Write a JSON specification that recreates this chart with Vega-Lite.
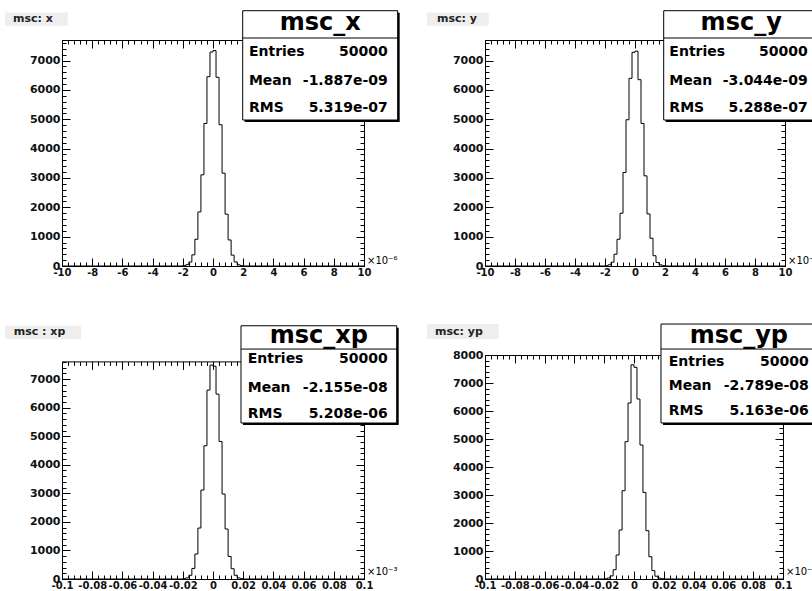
{
  "$schema": "https://vega.github.io/schema/vega-lite/v6.json",
  "background": "white",
  "autosize": {"type": "pad"},
  "padding": {"left": 4, "top": 10, "right": 0, "bottom": 0},
  "config": {
    "view": {"stroke": null},
    "axis": {"grid": false, "domainColor": "#000", "tickColor": "#000", "domainWidth": 1, "tickWidth": 1, "labelColor": "#111", "labelFont": "DejaVu Sans", "labelFontWeight": "bold", "labelFontSize": 10, "labelFlush": false, "labelOverlap": false, "zindex": 0},
    "text": {"font": "DejaVu Sans", "fontWeight": "bold", "fontSize": 14, "baseline": "middle", "color": "#000"}
  },
  "datasets": {
    "h1": [{"x":-10,"n":0},{"x":-2,"n":12},{"x":-1.8,"n":45},{"x":-1.6,"n":135},{"x":-1.4,"n":380},{"x":-1.2,"n":911},{"x":-1,"n":1843},{"x":-0.8,"n":3106},{"x":-0.6,"n":4857},{"x":-0.4,"n":6450},{"x":-0.2,"n":7290},{"x":0,"n":7340},{"x":0.2,"n":6430},{"x":0.4,"n":4812},{"x":0.6,"n":3164},{"x":0.8,"n":1765},{"x":1,"n":887},{"x":1.2,"n":370},{"x":1.4,"n":140},{"x":1.6,"n":42},{"x":1.8,"n":12},{"x":2,"n":0},{"x":10,"n":0}],
    "h2": [{"x":-10,"n":0},{"x":-2,"n":10},{"x":-1.8,"n":40},{"x":-1.6,"n":130},{"x":-1.4,"n":400},{"x":-1.2,"n":911},{"x":-1,"n":1798},{"x":-0.8,"n":3185},{"x":-0.6,"n":4983},{"x":-0.4,"n":6394},{"x":-0.2,"n":7280},{"x":0,"n":7320},{"x":0.2,"n":6348},{"x":0.4,"n":4857},{"x":0.6,"n":3072},{"x":0.8,"n":1775},{"x":1,"n":945},{"x":1.2,"n":350},{"x":1.4,"n":120},{"x":1.6,"n":40},{"x":1.8,"n":10},{"x":2,"n":0},{"x":10,"n":0}],
    "h3": [{"x":-0.1,"n":0},{"x":-0.02,"n":10},{"x":-0.018,"n":40},{"x":-0.016,"n":130},{"x":-0.014,"n":370},{"x":-0.012,"n":875},{"x":-0.01,"n":1785},{"x":-0.008,"n":3115},{"x":-0.006,"n":4666},{"x":-0.004,"n":6615},{"x":-0.002,"n":7490},{"x":0,"n":7450},{"x":0.002,"n":6475},{"x":0.004,"n":4816},{"x":0.006,"n":2975},{"x":0.008,"n":1750},{"x":0.01,"n":791},{"x":0.012,"n":360},{"x":0.014,"n":130},{"x":0.016,"n":40},{"x":0.018,"n":10},{"x":0.02,"n":0},{"x":0.1,"n":0}],
    "h4": [{"x":-0.1,"n":0},{"x":-0.02,"n":10},{"x":-0.018,"n":35},{"x":-0.016,"n":110},{"x":-0.014,"n":332},{"x":-0.012,"n":857},{"x":-0.01,"n":1750},{"x":-0.008,"n":3154},{"x":-0.006,"n":4904},{"x":-0.004,"n":6286},{"x":-0.002,"n":7650},{"x":0,"n":7560},{"x":0.002,"n":6428},{"x":0.004,"n":4786},{"x":0.006,"n":3093},{"x":0.008,"n":1725},{"x":0.01,"n":796},{"x":0.012,"n":300},{"x":0.014,"n":100},{"x":0.016,"n":30},{"x":0.018,"n":10},{"x":0.02,"n":0},{"x":0.1,"n":0}],
    "s1": [{"name":"msc_x","title":"msc: x","entries":"50000","mean":"-1.887e-09","rms":"5.319e-07","unit":"×10⁻⁶"}],
    "s2": [{"name":"msc_y","title":"msc: y","entries":"50000","mean":"-3.044e-09","rms":"5.288e-07","unit":"×10⁻⁶"}],
    "s3": [{"name":"msc_xp","title":"msc : xp","entries":"50000","mean":"-2.155e-08","rms":"5.208e-06","unit":"×10⁻³"}],
    "s4": [{"name":"msc_yp","title":"msc: yp","entries":"50000","mean":"-2.789e-08","rms":"5.163e-06","unit":"×10⁻³"}]
  },
  "columns": 2,
  "bounds": "flush",
  "align": "all",
  "spacing": {"row": 89, "column": 121},
  "concat": [
    {
      "width": 302, "height": 226,
      "data": {"name": "s1"},
      "resolve": {"scale": {"x": "shared", "y": "shared"}, "axis": {"x": "independent", "y": "independent"}},
      "layer": [
        {"data": {"name": "h1"}, "mark": {"type": "line", "interpolate": "step-after", "stroke": "#000", "strokeWidth": 1},
         "encoding": {
           "x": {"field": "x", "type": "quantitative", "scale": {"domain": [-10, 10], "nice": false, "zero": false},
                 "axis": {"orient": "bottom", "title": null, "values": [-10,-8,-6,-4,-2,0,2,4,6,8,10], "tickSize": -8, "labelPadding": 9, "labelExpr": "toString(datum.value)"}},
           "y": {"field": "n", "type": "quantitative", "scale": {"domain": [0, 7700], "nice": false},
                 "axis": {"orient": "left", "title": null, "values": [0,1000,2000,3000,4000,5000,6000,7000], "tickSize": -8, "labelPadding": 10, "labelFontSize": 11, "labelExpr": "toString(datum.value)"}}
         }},
        {"mark": {"type": "rect", "fill": "#000", "xOffset": 2, "x2Offset": 2, "yOffset": 2, "y2Offset": 2},
         "encoding": {
           "x": {"datum": 1.967, "type": "quantitative", "axis": {"orient": "bottom", "title": null, "labels": false, "domain": false, "tickSize": -4, "values": [-10,-9.6,-9.2,-8.8,-8.4,-8,-7.6,-7.2,-6.8,-6.4,-6,-5.6,-5.2,-4.8,-4.4,-4,-3.6,-3.2,-2.8,-2.4,-2,-1.6,-1.2,-0.8,-0.4,0,0.4,0.8,1.2,1.6,2,2.4,2.8,3.2,3.6,4,4.4,4.8,5.2,5.6,6,6.4,6.8,7.2,7.6,8,8.4,8.8,9.2,9.6,10]}},
           "x2": {"datum": 12.23},
           "y": {"datum": 8698, "type": "quantitative", "axis": {"orient": "left", "title": null, "labels": false, "domain": false, "tickSize": -4, "values": [0,200,400,600,800,1000,1200,1400,1600,1800,2000,2200,2400,2600,2800,3000,3200,3400,3600,3800,4000,4200,4400,4600,4800,5000,5200,5400,5600,5800,6000,6200,6400,6600,6800,7000,7200,7400,7600]}},
           "y2": {"datum": 4974}
         }},
        {"mark": {"type": "rect", "fill": "#fff", "stroke": "#000", "strokeWidth": 1},
         "encoding": {
           "x": {"datum": 1.967, "type": "quantitative", "axis": {"orient": "top", "title": null, "labels": false, "tickSize": -8, "values": [-10,-8,-6,-4,-2,0,2,4,6,8,10]}},
           "x2": {"datum": 12.23},
           "y": {"datum": 8698, "type": "quantitative", "axis": {"orient": "right", "title": null, "labels": false, "tickSize": -8, "values": [0,1000,2000,3000,4000,5000,6000,7000]}},
           "y2": {"datum": 4974}
         }},
        {"mark": {"type": "rect", "fill": "#eeeeee"},
         "encoding": {
           "x": {"datum": -13.775, "type": "quantitative", "axis": {"orient": "top", "title": null, "labels": false, "domain": false, "tickSize": -4, "values": [-10,-9.6,-9.2,-8.8,-8.4,-8,-7.6,-7.2,-6.8,-6.4,-6,-5.6,-5.2,-4.8,-4.4,-4,-3.6,-3.2,-2.8,-2.4,-2,-1.6,-1.2,-0.8,-0.4,0,0.4,0.8,1.2,1.6,2,2.4,2.8,3.2,3.6,4,4.4,4.8,5.2,5.6,6,6.4,6.8,7.2,7.6,8,8.4,8.8,9.2,9.6,10]}},
           "x2": {"datum": -9.62},
           "y": {"datum": 8640, "type": "quantitative", "axis": {"orient": "right", "title": null, "labels": false, "domain": false, "tickSize": -4, "values": [0,200,400,600,800,1000,1200,1400,1600,1800,2000,2200,2400,2600,2800,3000,3200,3400,3600,3800,4000,4200,4400,4600,4800,5000,5200,5400,5600,5800,6000,6200,6400,6600,6800,7000,7200,7400,7600]}},
           "y2": {"datum": 8187}
         }},
        {"mark": {"type": "rule", "stroke": "#000", "strokeWidth": 1},
         "encoding": {"x": {"datum": 1.967, "type": "quantitative", "axis": null}, "x2": {"datum": 12.23}, "y": {"datum": 7768, "type": "quantitative", "axis": null}}},
        {"mark": {"type": "text", "fontSize": 24, "align": "center"},
         "encoding": {"x": {"datum": 7.1, "type": "quantitative", "axis": null}, "y": {"datum": 8272, "type": "quantitative", "axis": null}, "text": {"field": "name"}}},
        {"mark": {"type": "text", "align": "left"},
         "encoding": {"x": {"datum": 2.38, "type": "quantitative", "axis": null}, "y": {"datum": 7277, "type": "quantitative", "axis": null}, "text": {"value": "Entries"}}},
        {"mark": {"type": "text", "align": "right"},
         "encoding": {"x": {"datum": 11.57, "type": "quantitative", "axis": null}, "y": {"datum": 7277, "type": "quantitative", "axis": null}, "text": {"field": "entries"}}},
        {"mark": {"type": "text", "align": "left"},
         "encoding": {"x": {"datum": 2.38, "type": "quantitative", "axis": null}, "y": {"datum": 6313, "type": "quantitative", "axis": null}, "text": {"value": "Mean"}}},
        {"mark": {"type": "text", "align": "right"},
         "encoding": {"x": {"datum": 11.57, "type": "quantitative", "axis": null}, "y": {"datum": 6313, "type": "quantitative", "axis": null}, "text": {"field": "mean"}}},
        {"mark": {"type": "text", "align": "left"},
         "encoding": {"x": {"datum": 2.38, "type": "quantitative", "axis": null}, "y": {"datum": 5383, "type": "quantitative", "axis": null}, "text": {"value": "RMS"}}},
        {"mark": {"type": "text", "align": "right"},
         "encoding": {"x": {"datum": 11.57, "type": "quantitative", "axis": null}, "y": {"datum": 5383, "type": "quantitative", "axis": null}, "text": {"field": "rms"}}},
        {"mark": {"type": "text", "align": "left", "fontSize": 11, "color": "#222"},
         "encoding": {"x": {"datum": -13.245, "type": "quantitative", "axis": null}, "y": {"datum": 8408, "type": "quantitative", "axis": null}, "text": {"field": "title"}}},
        {"mark": {"type": "text", "align": "left", "fontSize": 10, "fontWeight": "normal", "dx": 3},
         "encoding": {"x": {"datum": 10, "type": "quantitative", "axis": null}, "y": {"datum": 181, "type": "quantitative", "axis": null}, "text": {"field": "unit"}}}
      ]
    },
    {
      "width": 300, "height": 226,
      "data": {"name": "s2"},
      "resolve": {"scale": {"x": "shared", "y": "shared"}, "axis": {"x": "independent", "y": "independent"}},
      "layer": [
        {"data": {"name": "h2"}, "mark": {"type": "line", "interpolate": "step-after", "stroke": "#000", "strokeWidth": 1},
         "encoding": {
           "x": {"field": "x", "type": "quantitative", "scale": {"domain": [-10, 10], "nice": false, "zero": false},
                 "axis": {"orient": "bottom", "title": null, "values": [-10,-8,-6,-4,-2,0,2,4,6,8,10], "tickSize": -8, "labelPadding": 9, "labelExpr": "toString(datum.value)"}},
           "y": {"field": "n", "type": "quantitative", "scale": {"domain": [0, 7700], "nice": false},
                 "axis": {"orient": "left", "title": null, "values": [0,1000,2000,3000,4000,5000,6000,7000], "tickSize": -8, "labelPadding": 10, "labelFontSize": 11, "labelExpr": "toString(datum.value)"}}
         }},
        {"mark": {"type": "rect", "fill": "#000", "xOffset": 2, "x2Offset": 2, "yOffset": 2, "y2Offset": 2},
         "encoding": {
           "x": {"datum": 1.913, "type": "quantitative", "axis": {"orient": "bottom", "title": null, "labels": false, "domain": false, "tickSize": -4, "values": [-10,-9.6,-9.2,-8.8,-8.4,-8,-7.6,-7.2,-6.8,-6.4,-6,-5.6,-5.2,-4.8,-4.4,-4,-3.6,-3.2,-2.8,-2.4,-2,-1.6,-1.2,-0.8,-0.4,0,0.4,0.8,1.2,1.6,2,2.4,2.8,3.2,3.6,4,4.4,4.8,5.2,5.6,6,6.4,6.8,7.2,7.6,8,8.4,8.8,9.2,9.6,10]}},
           "x2": {"datum": 12.247},
           "y": {"datum": 8698, "type": "quantitative", "axis": {"orient": "left", "title": null, "labels": false, "domain": false, "tickSize": -4, "values": [0,200,400,600,800,1000,1200,1400,1600,1800,2000,2200,2400,2600,2800,3000,3200,3400,3600,3800,4000,4200,4400,4600,4800,5000,5200,5400,5600,5800,6000,6200,6400,6600,6800,7000,7200,7400,7600]}},
           "y2": {"datum": 4974}
         }},
        {"mark": {"type": "rect", "fill": "#fff", "stroke": "#000", "strokeWidth": 1},
         "encoding": {
           "x": {"datum": 1.913, "type": "quantitative", "axis": {"orient": "top", "title": null, "labels": false, "tickSize": -8, "values": [-10,-8,-6,-4,-2,0,2,4,6,8,10]}},
           "x2": {"datum": 12.247},
           "y": {"datum": 8698, "type": "quantitative", "axis": {"orient": "right", "title": null, "labels": false, "tickSize": -8, "values": [0,1000,2000,3000,4000,5000,6000,7000]}},
           "y2": {"datum": 4974}
         }},
        {"mark": {"type": "rect", "fill": "#eeeeee"},
         "encoding": {
           "x": {"datum": -13.867, "type": "quantitative", "axis": {"orient": "top", "title": null, "labels": false, "domain": false, "tickSize": -4, "values": [-10,-9.6,-9.2,-8.8,-8.4,-8,-7.6,-7.2,-6.8,-6.4,-6,-5.6,-5.2,-4.8,-4.4,-4,-3.6,-3.2,-2.8,-2.4,-2,-1.6,-1.2,-0.8,-0.4,0,0.4,0.8,1.2,1.6,2,2.4,2.8,3.2,3.6,4,4.4,4.8,5.2,5.6,6,6.4,6.8,7.2,7.6,8,8.4,8.8,9.2,9.6,10]}},
           "x2": {"datum": -9.753},
           "y": {"datum": 8640, "type": "quantitative", "axis": {"orient": "right", "title": null, "labels": false, "domain": false, "tickSize": -4, "values": [0,200,400,600,800,1000,1200,1400,1600,1800,2000,2200,2400,2600,2800,3000,3200,3400,3600,3800,4000,4200,4400,4600,4800,5000,5200,5400,5600,5800,6000,6200,6400,6600,6800,7000,7200,7400,7600]}},
           "y2": {"datum": 8187}
         }},
        {"mark": {"type": "rule", "stroke": "#000", "strokeWidth": 1},
         "encoding": {"x": {"datum": 1.913, "type": "quantitative", "axis": null}, "x2": {"datum": 12.247}, "y": {"datum": 7768, "type": "quantitative", "axis": null}}},
        {"mark": {"type": "text", "fontSize": 24, "align": "center"},
         "encoding": {"x": {"datum": 7.08, "type": "quantitative", "axis": null}, "y": {"datum": 8272, "type": "quantitative", "axis": null}, "text": {"field": "name"}}},
        {"mark": {"type": "text", "align": "left"},
         "encoding": {"x": {"datum": 2.29, "type": "quantitative", "axis": null}, "y": {"datum": 7277, "type": "quantitative", "axis": null}, "text": {"value": "Entries"}}},
        {"mark": {"type": "text", "align": "right"},
         "encoding": {"x": {"datum": 11.51, "type": "quantitative", "axis": null}, "y": {"datum": 7277, "type": "quantitative", "axis": null}, "text": {"field": "entries"}}},
        {"mark": {"type": "text", "align": "left"},
         "encoding": {"x": {"datum": 2.29, "type": "quantitative", "axis": null}, "y": {"datum": 6313, "type": "quantitative", "axis": null}, "text": {"value": "Mean"}}},
        {"mark": {"type": "text", "align": "right"},
         "encoding": {"x": {"datum": 11.51, "type": "quantitative", "axis": null}, "y": {"datum": 6313, "type": "quantitative", "axis": null}, "text": {"field": "mean"}}},
        {"mark": {"type": "text", "align": "left"},
         "encoding": {"x": {"datum": 2.29, "type": "quantitative", "axis": null}, "y": {"datum": 5383, "type": "quantitative", "axis": null}, "text": {"value": "RMS"}}},
        {"mark": {"type": "text", "align": "right"},
         "encoding": {"x": {"datum": 11.51, "type": "quantitative", "axis": null}, "y": {"datum": 5383, "type": "quantitative", "axis": null}, "text": {"field": "rms"}}},
        {"mark": {"type": "text", "align": "left", "fontSize": 11, "color": "#222"},
         "encoding": {"x": {"datum": -13.2, "type": "quantitative", "axis": null}, "y": {"datum": 8408, "type": "quantitative", "axis": null}, "text": {"field": "title"}}},
        {"mark": {"type": "text", "align": "left", "fontSize": 10, "fontWeight": "normal", "dx": 3},
         "encoding": {"x": {"datum": 10, "type": "quantitative", "axis": null}, "y": {"datum": 181, "type": "quantitative", "axis": null}, "text": {"field": "unit"}}}
      ]
    },
    {
      "width": 302, "height": 224,
      "data": {"name": "s3"},
      "resolve": {"scale": {"x": "shared", "y": "shared"}, "axis": {"x": "independent", "y": "independent"}},
      "layer": [
        {"data": {"name": "h3"}, "mark": {"type": "line", "interpolate": "step-after", "stroke": "#000", "strokeWidth": 1},
         "encoding": {
           "x": {"field": "x", "type": "quantitative", "scale": {"domain": [-0.1, 0.1], "nice": false, "zero": false},
                 "axis": {"orient": "bottom", "title": null, "values": [-0.1,-0.08,-0.06,-0.04,-0.02,0,0.02,0.04,0.06,0.08,0.1], "tickSize": -8, "labelPadding": 9, "labelExpr": "toString(datum.value)"}},
           "y": {"field": "n", "type": "quantitative", "scale": {"domain": [0, 7620], "range": [224, 6.4], "nice": false},
                 "axis": {"orient": "left", "title": null, "values": [0,1000,2000,3000,4000,5000,6000,7000], "tickSize": -8, "labelPadding": 10, "labelFontSize": 11, "labelExpr": "toString(datum.value)"}}
         }},
        {"mark": {"type": "rect", "fill": "#000", "xOffset": 2, "x2Offset": 2, "yOffset": 2, "y2Offset": 2},
         "encoding": {
           "x": {"datum": 0.018543, "type": "quantitative", "axis": {"orient": "bottom", "title": null, "labels": false, "domain": false, "tickSize": -4, "values": [-0.1,-0.096,-0.092,-0.088,-0.084,-0.08,-0.076,-0.072,-0.068,-0.064,-0.06,-0.056,-0.052,-0.048,-0.044,-0.04,-0.036,-0.032,-0.028,-0.024,-0.02,-0.016,-0.012,-0.008,-0.004,0,0.004,0.008,0.012,0.016,0.02,0.024,0.028,0.032,0.036,0.04,0.044,0.048,0.052,0.056,0.06,0.064,0.068,0.072,0.076,0.08,0.084,0.088,0.092,0.096,0.1]}},
           "x2": {"datum": 0.121656},
           "y": {"datum": 8868, "type": "quantitative", "axis": {"orient": "left", "title": null, "labels": false, "domain": false, "tickSize": -4, "values": [0,200,400,600,800,1000,1200,1400,1600,1800,2000,2200,2400,2600,2800,3000,3200,3400,3600,3800,4000,4200,4400,4600,4800,5000,5200,5400,5600,5800,6000,6200,6400,6600,6800,7000,7200,7400,7600]}},
           "y2": {"datum": 5462}
         }},
        {"mark": {"type": "rect", "fill": "#fff", "stroke": "#000", "strokeWidth": 1},
         "encoding": {
           "x": {"datum": 0.018543, "type": "quantitative", "axis": {"orient": "top", "title": null, "labels": false, "tickSize": -8, "offset": -6.4, "values": [-0.1,-0.08,-0.06,-0.04,-0.02,0,0.02,0.04,0.06,0.08,0.1]}},
           "x2": {"datum": 0.121656},
           "y": {"datum": 8868, "type": "quantitative", "axis": {"orient": "right", "title": null, "labels": false, "tickSize": -8, "values": [0,1000,2000,3000,4000,5000,6000,7000]}},
           "y2": {"datum": 5462}
         }},
        {"mark": {"type": "rect", "fill": "#eeeeee"},
         "encoding": {
           "x": {"datum": -0.13775, "type": "quantitative", "axis": {"orient": "top", "title": null, "labels": false, "domain": false, "tickSize": -4, "offset": -6.4, "values": [-0.1,-0.096,-0.092,-0.088,-0.084,-0.08,-0.076,-0.072,-0.068,-0.064,-0.06,-0.056,-0.052,-0.048,-0.044,-0.04,-0.036,-0.032,-0.028,-0.024,-0.02,-0.016,-0.012,-0.008,-0.004,0,0.004,0.008,0.012,0.016,0.02,0.024,0.028,0.032,0.036,0.04,0.044,0.048,0.052,0.056,0.06,0.064,0.068,0.072,0.076,0.08,0.084,0.088,0.092,0.096,0.1]}},
           "x2": {"datum": -0.08742},
           "y": {"datum": 8868, "type": "quantitative", "axis": {"orient": "right", "title": null, "labels": false, "domain": false, "tickSize": -4, "values": [0,200,400,600,800,1000,1200,1400,1600,1800,2000,2200,2400,2600,2800,3000,3200,3400,3600,3800,4000,4200,4400,4600,4800,5000,5200,5400,5600,5800,6000,6200,6400,6600,6800,7000,7200,7400,7600]}},
           "y2": {"datum": 8402}
         }},
        {"mark": {"type": "rule", "stroke": "#000", "strokeWidth": 1},
         "encoding": {"x": {"datum": 0.018543, "type": "quantitative", "axis": null}, "x2": {"datum": 0.121656}, "y": {"datum": 8052, "type": "quantitative", "axis": null}}},
        {"mark": {"type": "text", "fontSize": 24, "align": "center"},
         "encoding": {"x": {"datum": 0.0701, "type": "quantitative", "axis": null}, "y": {"datum": 8493, "type": "quantitative", "axis": null}, "text": {"field": "name"}}},
        {"mark": {"type": "text", "align": "left"},
         "encoding": {"x": {"datum": 0.02298, "type": "quantitative", "axis": null}, "y": {"datum": 7702, "type": "quantitative", "axis": null}, "text": {"value": "Entries"}}},
        {"mark": {"type": "text", "align": "right"},
         "encoding": {"x": {"datum": 0.1157, "type": "quantitative", "axis": null}, "y": {"datum": 7702, "type": "quantitative", "axis": null}, "text": {"field": "entries"}}},
        {"mark": {"type": "text", "align": "left"},
         "encoding": {"x": {"datum": 0.02298, "type": "quantitative", "axis": null}, "y": {"datum": 6673, "type": "quantitative", "axis": null}, "text": {"value": "Mean"}}},
        {"mark": {"type": "text", "align": "right"},
         "encoding": {"x": {"datum": 0.1157, "type": "quantitative", "axis": null}, "y": {"datum": 6673, "type": "quantitative", "axis": null}, "text": {"field": "mean"}}},
        {"mark": {"type": "text", "align": "left"},
         "encoding": {"x": {"datum": 0.02298, "type": "quantitative", "axis": null}, "y": {"datum": 5777, "type": "quantitative", "axis": null}, "text": {"value": "RMS"}}},
        {"mark": {"type": "text", "align": "right"},
         "encoding": {"x": {"datum": 0.1157, "type": "quantitative", "axis": null}, "y": {"datum": 5777, "type": "quantitative", "axis": null}, "text": {"field": "rms"}}},
        {"mark": {"type": "text", "align": "left", "fontSize": 11, "color": "#222"},
         "encoding": {"x": {"datum": -0.13199, "type": "quantitative", "axis": null}, "y": {"datum": 8634, "type": "quantitative", "axis": null}, "text": {"field": "title"}}},
        {"mark": {"type": "text", "align": "left", "fontSize": 10, "fontWeight": "normal", "dx": 3},
         "encoding": {"x": {"datum": 0.1, "type": "quantitative", "axis": null}, "y": {"datum": 231, "type": "quantitative", "axis": null}, "text": {"field": "unit"}}}
      ]
    },
    {
      "width": 298, "height": 224,
      "data": {"name": "s4"},
      "resolve": {"scale": {"x": "shared", "y": "shared"}, "axis": {"x": "independent", "y": "independent"}},
      "layer": [
        {"data": {"name": "h4"}, "mark": {"type": "line", "interpolate": "step-after", "stroke": "#000", "strokeWidth": 1},
         "encoding": {
           "x": {"field": "x", "type": "quantitative", "scale": {"domain": [-0.1, 0.1], "nice": false, "zero": false},
                 "axis": {"orient": "bottom", "title": null, "values": [-0.1,-0.08,-0.06,-0.04,-0.02,0,0.02,0.04,0.06,0.08,0.1], "tickSize": -8, "labelPadding": 9, "labelExpr": "toString(datum.value)"}},
           "y": {"field": "n", "type": "quantitative", "scale": {"domain": [0, 8000], "nice": false},
                 "axis": {"orient": "left", "title": null, "values": [0,1000,2000,3000,4000,5000,6000,7000,8000], "tickSize": -8, "labelPadding": 10, "labelFontSize": 11, "labelExpr": "toString(datum.value)"}}
         }},
        {"mark": {"type": "rect", "fill": "#000", "xOffset": 2, "x2Offset": 2, "yOffset": 2, "y2Offset": 2},
         "encoding": {
           "x": {"datum": 0.01812, "type": "quantitative", "axis": {"orient": "bottom", "title": null, "labels": false, "domain": false, "tickSize": -4, "values": [-0.1,-0.096,-0.092,-0.088,-0.084,-0.08,-0.076,-0.072,-0.068,-0.064,-0.06,-0.056,-0.052,-0.048,-0.044,-0.04,-0.036,-0.032,-0.028,-0.024,-0.02,-0.016,-0.012,-0.008,-0.004,0,0.004,0.008,0.012,0.016,0.02,0.024,0.028,0.032,0.036,0.04,0.044,0.048,0.052,0.056,0.06,0.064,0.068,0.072,0.076,0.08,0.084,0.088,0.092,0.096,0.1]}},
           "x2": {"datum": 0.12262},
           "y": {"datum": 9106, "type": "quantitative", "axis": {"orient": "left", "title": null, "labels": false, "domain": false, "tickSize": -4, "values": [0,200,400,600,800,1000,1200,1400,1600,1800,2000,2200,2400,2600,2800,3000,3200,3400,3600,3800,4000,4200,4400,4600,4800,5000,5200,5400,5600,5800,6000,6200,6400,6600,6800,7000,7200,7400,7600,7800,8000]}},
           "y2": {"datum": 5571}
         }},
        {"mark": {"type": "rect", "fill": "#fff", "stroke": "#000", "strokeWidth": 1},
         "encoding": {
           "x": {"datum": 0.01812, "type": "quantitative", "axis": {"orient": "top", "title": null, "labels": false, "tickSize": -8, "values": [-0.1,-0.08,-0.06,-0.04,-0.02,0,0.02,0.04,0.06,0.08,0.1]}},
           "x2": {"datum": 0.12262},
           "y": {"datum": 9106, "type": "quantitative", "axis": {"orient": "right", "title": null, "labels": false, "tickSize": -8, "values": [0,1000,2000,3000,4000,5000,6000,7000,8000]}},
           "y2": {"datum": 5571}
         }},
        {"mark": {"type": "rect", "fill": "#eeeeee"},
         "encoding": {
           "x": {"datum": -0.13893, "type": "quantitative", "axis": {"orient": "top", "title": null, "labels": false, "domain": false, "tickSize": -4, "values": [-0.1,-0.096,-0.092,-0.088,-0.084,-0.08,-0.076,-0.072,-0.068,-0.064,-0.06,-0.056,-0.052,-0.048,-0.044,-0.04,-0.036,-0.032,-0.028,-0.024,-0.02,-0.016,-0.012,-0.008,-0.004,0,0.004,0.008,0.012,0.016,0.02,0.024,0.028,0.032,0.036,0.04,0.044,0.048,0.052,0.056,0.06,0.064,0.068,0.072,0.076,0.08,0.084,0.088,0.092,0.096,0.1]}},
           "x2": {"datum": -0.09081},
           "y": {"datum": 9106, "type": "quantitative", "axis": {"orient": "right", "title": null, "labels": false, "domain": false, "tickSize": -4, "values": [0,200,400,600,800,1000,1200,1400,1600,1800,2000,2200,2400,2600,2800,3000,3200,3400,3600,3800,4000,4200,4400,4600,4800,5000,5200,5400,5600,5800,6000,6200,6400,6600,6800,7000,7200,7400,7600,7800,8000]}},
           "y2": {"datum": 8570}
         }},
        {"mark": {"type": "rule", "stroke": "#000", "strokeWidth": 1},
         "encoding": {"x": {"datum": 0.01812, "type": "quantitative", "axis": null}, "x2": {"datum": 0.12262}, "y": {"datum": 8213, "type": "quantitative", "axis": null}}},
        {"mark": {"type": "text", "fontSize": 24, "align": "center"},
         "encoding": {"x": {"datum": 0.07037, "type": "quantitative", "axis": null}, "y": {"datum": 8688, "type": "quantitative", "axis": null}, "text": {"field": "name"}}},
        {"mark": {"type": "text", "align": "left"},
         "encoding": {"x": {"datum": 0.02329, "type": "quantitative", "axis": null}, "y": {"datum": 7735, "type": "quantitative", "axis": null}, "text": {"value": "Entries"}}},
        {"mark": {"type": "text", "align": "right"},
         "encoding": {"x": {"datum": 0.11725, "type": "quantitative", "axis": null}, "y": {"datum": 7735, "type": "quantitative", "axis": null}, "text": {"field": "entries"}}},
        {"mark": {"type": "text", "align": "left"},
         "encoding": {"x": {"datum": 0.02329, "type": "quantitative", "axis": null}, "y": {"datum": 6878, "type": "quantitative", "axis": null}, "text": {"value": "Mean"}}},
        {"mark": {"type": "text", "align": "right"},
         "encoding": {"x": {"datum": 0.11725, "type": "quantitative", "axis": null}, "y": {"datum": 6878, "type": "quantitative", "axis": null}, "text": {"field": "mean"}}},
        {"mark": {"type": "text", "align": "left"},
         "encoding": {"x": {"datum": 0.02329, "type": "quantitative", "axis": null}, "y": {"datum": 6010, "type": "quantitative", "axis": null}, "text": {"value": "RMS"}}},
        {"mark": {"type": "text", "align": "right"},
         "encoding": {"x": {"datum": 0.11725, "type": "quantitative", "axis": null}, "y": {"datum": 6010, "type": "quantitative", "axis": null}, "text": {"field": "rms"}}},
        {"mark": {"type": "text", "align": "left", "fontSize": 11, "color": "#222"},
         "encoding": {"x": {"datum": -0.13356, "type": "quantitative", "axis": null}, "y": {"datum": 8838, "type": "quantitative", "axis": null}, "text": {"field": "title"}}},
        {"mark": {"type": "text", "align": "left", "fontSize": 10, "fontWeight": "normal", "dx": 3},
         "encoding": {"x": {"datum": 0.1, "type": "quantitative", "axis": null}, "y": {"datum": 236, "type": "quantitative", "axis": null}, "text": {"field": "unit"}}}
      ]
    }
  ]
}
